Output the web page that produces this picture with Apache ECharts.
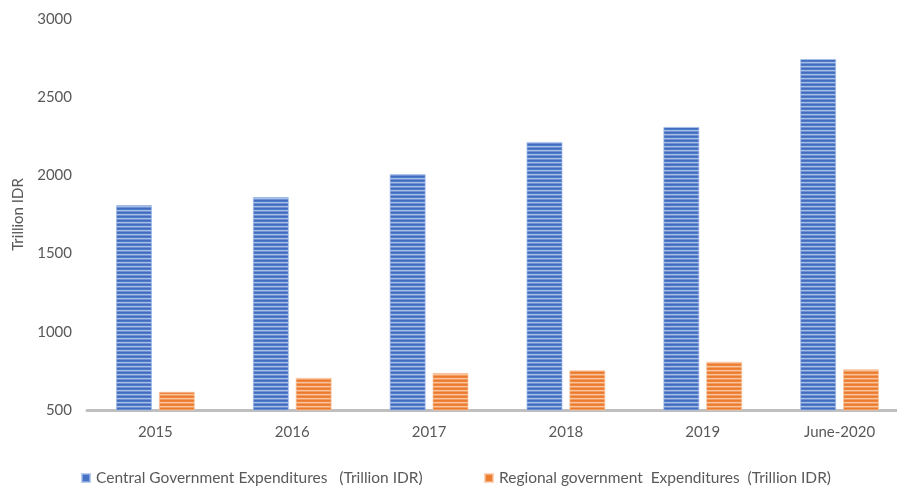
<!DOCTYPE html>
<html>
<head>
<meta charset="utf-8">
<script src="https://cdn.jsdelivr.net/npm/echarts@6/dist/echarts.min.js"></script>
<style>
  html, body { margin: 0; padding: 0; background: #fff; overflow: hidden; }
  body { width: 897px; height: 486px; }
  #chart { width: 908px; height: 486px; }
</style>
</head>
<body>
<div id="chart"></div>
<script>
const categories = ['2015', '2016', '2017', '2018', '2019', 'June-2020'];
const centralSpending = [1810, 1862, 2009, 2214, 2310, 2744];
const regionalSpending = [617, 706, 737, 754, 809, 760];
const yTicks = [500, 1000, 1500, 2000, 2500, 3000];

const centralName = 'Central Government Expenditures   (Trillion IDR)';
const regionalName = 'Regional government  Expenditures  (Trillion IDR)';

// Horizontal striped fill, built as a small repeating canvas tile
function stripeTile(rows) {
  const c = document.createElement('canvas');
  c.width = 4;
  c.height = rows.length;
  const ctx = c.getContext('2d');
  rows.forEach((col, i) => {
    ctx.fillStyle = col;
    ctx.fillRect(0, i, 4, 1);
  });
  return c;
}
const blueTile = stripeTile(['#416dc0', '#4f79c6', '#a8bfe8', '#6f90d1']);
const orangeTile = stripeTile(['#ec7a2c', '#ee8640', '#f8c39d', '#f29e62']);

const font = 'Lato, "Open Sans", sans-serif';
const chart = echarts.init(document.getElementById('chart'));
chart.setOption({
  animation: false,
  textStyle: { fontFamily: font },
  grid: { left: 87, right: 0, top: 19, bottom: 76, containLabel: false },
  legend: [
    {
      data: [{ name: centralName, icon: 'rect', itemStyle: { color: '#4472c4' } }],
      left: 76, top: 465, itemWidth: 8, itemHeight: 8, itemGap: 6,
      textStyle: { color: '#595959', fontSize: 15.5, fontFamily: font, padding: [0, 0, 0, 1] }
    },
    {
      data: [{ name: regionalName, icon: 'rect', itemStyle: { color: '#ed7d31' } }],
      left: 479, top: 465, itemWidth: 8, itemHeight: 8, itemGap: 6,
      textStyle: { color: '#595959', fontSize: 15.5, fontFamily: font, padding: [0, 0, 0, 1] }
    }
  ],
  xAxis: {
    type: 'category',
    data: categories,
    axisLine: { lineStyle: { color: '#bfbfbf', width: 3 } },
    axisTick: { show: false },
    axisLabel: { color: '#595959', fontSize: 15, margin: 15, fontFamily: font }
  },
  yAxis: {
    type: 'value',
    min: yTicks[0],
    max: yTicks[yTicks.length - 1],
    interval: 500,
    name: 'Trillion IDR',
    nameLocation: 'middle',
    nameRotate: 90,
    nameGap: 61,
    nameTextStyle: { color: '#595959', fontSize: 15, fontFamily: font },
    axisLine: { show: false },
    axisTick: { show: false },
    splitLine: { show: false },
    axisLabel: { color: '#595959', fontSize: 15, margin: 15, fontFamily: font, formatter: v => String(v) }
  },
  series: [
    {
      name: centralName,
      type: 'bar',
      data: centralSpending,
      barWidth: 36,
      barGap: '19%',
      itemStyle: { color: { image: blueTile, repeat: 'repeat' }, borderColor: 'rgba(160,185,230,0.7)', borderWidth: 1 }
    },
    {
      name: regionalName,
      type: 'bar',
      data: regionalSpending,
      barWidth: 36,
      barGap: '19%',
      itemStyle: { color: { image: orangeTile, repeat: 'repeat' }, borderColor: 'rgba(248,195,160,0.7)', borderWidth: 1 }
    }
  ]
});
</script>
</body>
</html>
